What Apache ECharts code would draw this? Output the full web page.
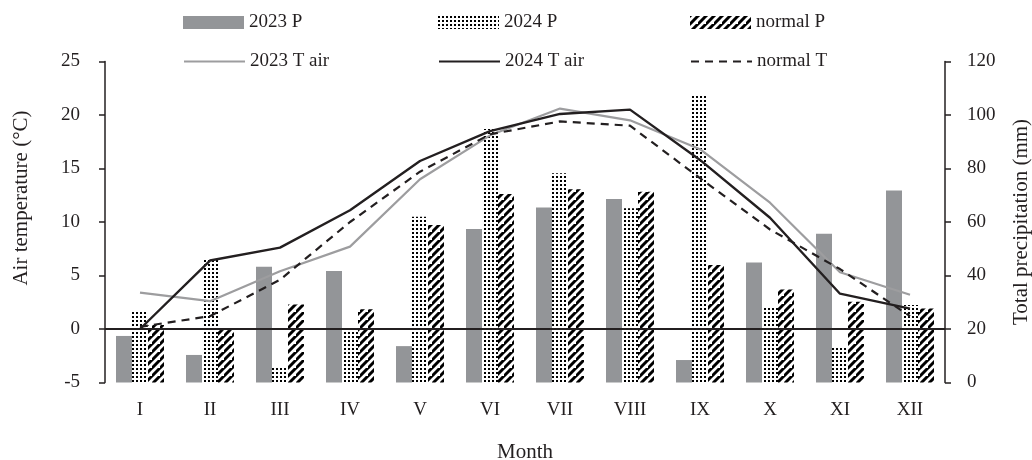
<!DOCTYPE html>
<html>
<head>
<meta charset="utf-8">
<script src="https://cdn.jsdelivr.net/npm/echarts@6/dist/echarts.min.js"></script>
<style>
html,body{margin:0;padding:0;background:#fff;}
#chart{width:1032px;height:460px;}
</style>
</head>
<body>
<div id="chart"></div>
<script>
// ---- data ----
const months = ['I','II','III','IV','V','VI','VII','VIII','IX','X','XI','XII'];
const p2023 = [17.4, 10.3, 43.3, 41.7, 13.6, 57.4, 65.4, 68.6, 8.4, 44.9, 55.6, 71.8];
const p2024 = [26.7, 46.0, 5.9, 19.6, 62.0, 94.8, 78.2, 65.1, 107.2, 28.3, 13.6, 29.0];
const pNormal = [21.5, 19.6, 29.2, 27.4, 58.9, 70.5, 72.2, 71.3, 43.9, 34.8, 30.2, 27.7];
const t2023 = [3.4, 2.6, 5.4, 7.7, 14.0, 18.1, 20.6, 19.5, 16.8, 11.8, 5.3, 3.2];
const t2024 = [0.0, 6.4, 7.6, 11.1, 15.7, 18.5, 20.1, 20.5, 15.8, 10.4, 3.3, 1.9];
const tNormal = [0.2, 1.2, 4.6, 10.0, 14.7, 18.2, 19.4, 19.0, 14.1, 9.3, 5.6, 1.2];
const tempTicks = {min: -5, max: 25, interval: 5};
const precTicks = {min: 0, max: 120, interval: 20};

// ---- patterns ----
function dotPattern() {
  const c = document.createElement('canvas');
  c.width = 4; c.height = 4;
  const g = c.getContext('2d');
  g.fillStyle = '#fff'; g.fillRect(0, 0, 4, 4);
  g.fillStyle = '#000'; g.fillRect(0, 0, 2, 2);
  return c;
}
function hatchPattern() {
  const s = 8;
  const c = document.createElement('canvas');
  c.width = s; c.height = s;
  const g = c.getContext('2d');
  g.fillStyle = '#fff'; g.fillRect(0, 0, s, s);
  g.strokeStyle = '#000'; g.lineWidth = 3; g.lineCap = 'butt';
  g.beginPath();
  g.moveTo(-2, s + 2); g.lineTo(s + 2, -2);
  g.moveTo(-2 - s, s + 2); g.lineTo(2, -2);
  g.moveTo(s - 2, 2 * s + 2); g.lineTo(2 * s + 2, s - 2);
  g.stroke();
  return c;
}
const dotFill = {image: dotPattern(), repeat: 'repeat'};
const hatchFill = {image: hatchPattern(), repeat: 'repeat'};

const FONT = 'Liberation Serif';
const TXT = '#231f20';

const chart = echarts.init(document.getElementById('chart'), null, {renderer: 'canvas'});

function legendAt(name, left, top, isLine) {
  const l = {
    data: [name], left: left, top: top, orient: 'horizontal',
    itemWidth: 61, itemHeight: 13, itemGap: 0,
    textStyle: {fontFamily: FONT, fontSize: 19, color: TXT},
    selectedMode: false, padding: 0
  };
  if (isLine) {
    l.itemStyle = {opacity: 0};
  } else {
    l.icon = 'rect';
  }
  return l;
}

const option = {
  backgroundColor: '#fff',
  animation: false,
  textStyle: {fontFamily: FONT},
  legend: [
    legendAt('2023 P', 183, 13, false),
    legendAt('2024 P', 438, 13, false),
    legendAt('normal P', 690, 13, false),
    legendAt('2023 T air', 183, 52, true),
    legendAt('2024 T air', 438, 52, true),
    legendAt('normal T', 690, 52, true)
  ],
  grid: {left: 105, right: 87, top: 61.5, bottom: 77.5, containLabel: false, outerBoundsMode: 'none'},
  xAxis: {
    type: 'category', data: months, boundaryGap: true,
    axisLine: {show: false}, axisTick: {show: false},
    axisLabel: {fontFamily: FONT, fontSize: 19, color: TXT, margin: 18},
    name: 'Month', nameLocation: 'middle', nameGap: 59,
    nameTextStyle: {fontFamily: FONT, fontSize: 21, color: TXT}
  },
  yAxis: [
    {
      type: 'value', position: 'left', min: tempTicks.min, max: tempTicks.max, interval: tempTicks.interval,
      splitLine: {show: false},
      axisLine: {show: true, lineStyle: {color: TXT, width: 1.5}},
      axisTick: {show: true, length: 6, inside: false, lineStyle: {color: TXT, width: 1.5}},
      axisLabel: {fontFamily: FONT, fontSize: 19, color: TXT, margin: 25},
      name: 'Air temperature (°C)', nameLocation: 'middle', nameRotate: 90, nameGap: 73,
      nameTextStyle: {fontFamily: FONT, fontSize: 21, color: TXT, padding: [0, 0, 0, 48]}
    },
    {
      type: 'value', position: 'right', min: precTicks.min, max: precTicks.max, interval: precTicks.interval,
      splitLine: {show: false},
      axisLine: {show: true, lineStyle: {color: TXT, width: 1.5}},
      axisTick: {show: true, length: 6, inside: false, lineStyle: {color: TXT, width: 1.5}},
      axisLabel: {fontFamily: FONT, fontSize: 19, color: TXT, margin: 22},
      name: 'Total precipitation (mm)', nameLocation: 'middle', nameRotate: 90, nameGap: 66,
      nameTextStyle: {fontFamily: FONT, fontSize: 21, color: TXT}
    }
  ],
  series: [
    {name: '2023 P', type: 'bar', yAxisIndex: 1, data: p2023, barWidth: 16, barGap: '0%',
     itemStyle: {color: '#939598'}, z: 2},
    {name: '2024 P', type: 'bar', yAxisIndex: 1, data: p2024, barWidth: 16, barGap: '0%',
     itemStyle: {color: dotFill}, z: 2},
    {name: 'normal P', type: 'bar', yAxisIndex: 1, data: pNormal, barWidth: 16, barGap: '0%',
     itemStyle: {color: hatchFill}, z: 2},
    {name: '2023 T air', type: 'line', yAxisIndex: 0, data: t2023, symbol: 'none',
     lineStyle: {color: '#9d9d9f', width: 2.2}, itemStyle: {color: '#9d9d9f'}, z: 4},
    {name: '2024 T air', type: 'line', yAxisIndex: 0, data: t2024, symbol: 'none',
     lineStyle: {color: '#231f20', width: 2.4}, itemStyle: {color: '#231f20'}, z: 5},
    {name: 'normal T', type: 'line', yAxisIndex: 0, data: tNormal, symbol: 'none',
     lineStyle: {color: '#231f20', width: 2.2, type: [8, 6]}, itemStyle: {color: '#231f20'}, z: 5,
     markLine: {silent: true, symbol: 'none', label: {show: false},
       lineStyle: {color: '#231f20', width: 2, type: 'solid'},
       data: [{yAxis: 0}]}}
  ]
};
chart.setOption(option);
</script>
</body>
</html>
